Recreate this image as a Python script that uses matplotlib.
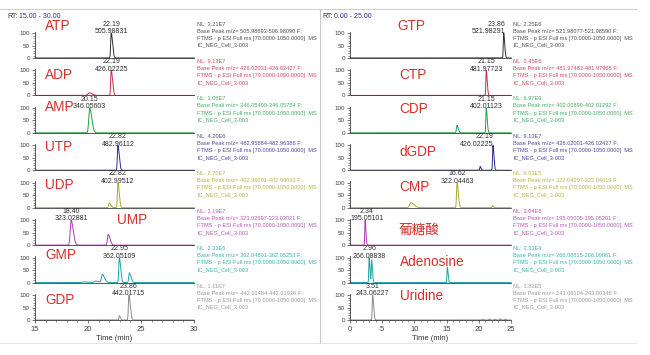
import numpy as np
import matplotlib
matplotlib.use("Agg")
import matplotlib.pyplot as plt
from matplotlib.ticker import MultipleLocator

# ---------------- data ----------------
left_names = ["ATP", "ADP", "AMP", "UTP", "UDP", "UMP", "GMP", "GDP"]
left_rt = [22.19, 22.19, 20.15, 22.82, 22.82, 18.40, 22.95, 23.86]
left_mz = ["505.98831", "426.02225", "346.05603", "482.96112",
           "402.99512", "323.02881", "362.05109", "442.01715"]
left_nl = ["3.21E7", "9.13E7", "1.06E7", "4.20E6", "2.70E7", "1.19E7", "2.33E6", "1.11E7"]
left_range = ["505.98693-506.98090", "426.02031-426.02427", "346.05409-346.05754",
              "482.95884-482.96386", "402.99291-402.99693", "323.02697-323.03021",
              "362.04891-362.05253", "442.01484-442.01936"]
# peaks: (retention time, relative abundance, width)
left_peaks = [
    [(22.19, 100, 0.05)],
    [(22.19, 100, 0.05), (20.10, 10, 0.12)],
    [(20.15, 100, 0.08)],
    [(22.82, 100, 0.05)],
    [(22.82, 100, 0.05), (22.00, 19, 0.06)],
    [(18.40, 100, 0.08), (21.90, 43, 0.07)],
    [(22.95, 100, 0.05), (19.60, 3, 0.15), (20.70, 6, 0.12), (21.35, 32, 0.08), (23.90, 39, 0.06)],
    [(23.86, 100, 0.05), (22.95, 17, 0.04)],
]

right_names = ["GTP", "CTP", "CDP", "dGDP", "CMP", "葡糖酸", "Adenosine", "Uridine"]
right_rt = [23.86, 21.15, 21.15, 22.19, 16.62, 2.34, 2.96, 3.51]
right_mz = ["521.98291", "481.97723", "402.01123", "426.02225",
            "322.04463", "195.05101", "266.08838", "243.06227"]
right_nl = ["2.25E6", "2.45E6", "6.97E6", "9.13E7", "9.03E5", "3.04E8", "2.33E4", "3.82E5"]
right_range = ["521.98077-521.98590", "481.97483-481.97965", "402.00890-402.01292",
               "426.02001-426.02427", "322.04297-322.04619", "195.05005-195.05201",
               "266.08815-266.09061", "243.06104-243.06348"]
right_peaks = [
    [(23.86, 100, 0.06)],
    [(21.15, 100, 0.06)],
    [(21.15, 100, 0.06), (16.60, 30, 0.08)],
    [(22.19, 100, 0.06), (20.20, 15, 0.06)],
    [(16.62, 100, 0.08), (9.45, 20, 0.20), (22.10, 8, 0.06)],
    [(2.34, 100, 0.05)],
    [(2.96, 100, 0.05), (3.35, 90, 0.05), (15.10, 62, 0.05)],
    [(3.51, 100, 0.06), (20.6, 3, 0.05), (21.6, 4, 0.05), (22.5, 3, 0.05), (23.3, 5, 0.05), (24.1, 4, 0.05)],
]

colors = ["#303030", "#cc2b45", "#22a046", "#2b2b8c", "#a8a828", "#b23ab2", "#1fa3a3", "#8a8a8a"]
name_color = "#d8302a"

# ---------------- layout helpers (pixel based) ----------------
W, H = 650, 355
fig = plt.figure(figsize=(W / 100, H / 100), dpi=100)
fig.patch.set_facecolor("white")

def fx(px):
    return px / W

def fy(py):
    return 1 - py / H

base0, step = 58.0, 37.43
unit = 25.0  # px for 100 %
YMAX = 105

SANS = ["Liberation Sans", "Noto Sans CJK SC", "DejaVu Sans"]

panels = [
    dict(x0=35, x1=194, lim=(15, 30), names=left_names, rt=left_rt, mz=left_mz, nl=left_nl,
         rng=left_range, peaks=left_peaks, txtx=197,
         name_x=[15.95, 15.95, 15.95, 15.95, 15.95, 22.7, 15.95, 15.95],
         name_y=[128, 80, 104, 92, 92, 100, 112, 80],
         ha=["center"] * 8, dx=[0] * 8,
         rtlabel=("RT:", "15.00 - 30.00", 7, 19), ticks=[15, 20, 25, 30]),
    dict(x0=350, x1=511, lim=(0, 25), names=right_names, rt=right_rt, mz=right_mz, nl=right_nl,
         rng=right_range, peaks=right_peaks, txtx=513,
         name_x=[7.3, 7.7, 7.7, 7.6, 7.6, 7.6, 7.7, 7.7],
         name_y=[128, 80, 96, 72, 84, 60, 84, 96],
         ha=["right", "center", "center", "right", "center", "center", "center", "center"],
         dx=[0.3, 0, 0, 0.1, 0, 0.3, 0, 0],
         rtlabel=("RT:", "0.00 - 25.00", 322, 334), ticks=[0, 5, 10, 15, 20, 25]),
]

for p in panels:
    lo, hi = p["lim"]
    t = np.linspace(lo, hi, 6000)
    for i in range(8):
        b = base0 + i * step
        ax = fig.add_axes([fx(p["x0"]), fy(b), (p["x1"] - p["x0"]) / W, unit * YMAX / 100 / H])
        y = np.zeros_like(t)
        for (rt, h, s) in p["peaks"][i]:
            sl = np.where(t < rt, s, s * 2.5)
            y += h * np.exp(-0.5 * ((t - rt) / sl) ** 2)
        ax.plot(t, y, color=colors[i], lw=0.7, clip_on=False)
        ax.set_xlim(lo, hi)
        ax.set_ylim(0, YMAX)
        ax.patch.set_alpha(0)
        for s in ("top", "right"):
            ax.spines[s].set_visible(False)
        for s in ("left", "bottom"):
            ax.spines[s].set_color("#404040")
            ax.spines[s].set_linewidth(0.6)
        ax.set_yticks([0, 50, 100])
        ax.yaxis.set_minor_locator(MultipleLocator(10))
        ax.tick_params(axis="y", which="major", labelsize=4.5, length=2.5, width=0.5,
                       pad=1, colors="#404040")
        ax.tick_params(axis="y", which="minor", length=1.2, width=0.4, colors="#404040")
        if i < 7:
            ax.tick_params(axis="x", which="both", bottom=False, labelbottom=False)
        else:
            ax.set_xticks(p["ticks"])
            ax.xaxis.set_minor_locator(MultipleLocator(1))
            ax.tick_params(axis="x", which="major", labelsize=5.5, length=2.5, width=0.5,
                           pad=1.5, colors="#404040")
            ax.tick_params(axis="x", which="minor", length=1.2, width=0.4, colors="#404040")
            ax.set_xlabel("Time (min)", fontsize=5.5, labelpad=1.5, color="#303030",
                          family=SANS)
        for lab in ax.get_xticklabels() + ax.get_yticklabels():
            lab.set_family(SANS)
        # peak annotation
        ax.text(p["rt"][i] + p["dx"][i], 91, f"{p['rt'][i]:.2f}\n{p['mz'][i]}",
                ha=p["ha"][i], va="bottom", fontsize=5, linespacing=1.1,
                color="#303030", clip_on=False, family=SANS)
        # compound name
        ax.text(p["name_x"][i], p["name_y"][i], p["names"][i], ha="left", va="center",
                fontsize=9.8, color=name_color, family=SANS, clip_on=False)
        # info block
        lines = [f"NL: {p['nl'][i]}",
                 f"Base Peak m/z= {p['rng'][i]} F:",
                 "FTMS - p ESI Full ms [70.0000-1050.0000]  MS",
                 "IC_NEG_Cell_3-003"]
        for k, ln in enumerate(lines):
            fig.text(fx(p["txtx"]), fy(b - 34 + k * 7.1), ln, ha="left", va="center",
                     fontsize=4.1, color=colors[i], family=SANS, alpha=0.85)
    a, bnum, xa, xb = p["rtlabel"]
    fig.text(fx(xa), fy(16), a, fontsize=5, color="#303030", va="center", family=SANS)
    fig.text(fx(xb), fy(16), bnum, fontsize=5, color="#3030a0", va="center", family=SANS)

# frame lines
fig.add_artist(plt.Line2D([0, fx(636)], [fy(9), fy(9)], color="#cfcfcf", lw=0.8))
fig.add_artist(plt.Line2D([0, fx(636)], [fy(343), fy(343)], color="#e6e6e6", lw=0.8))
fig.add_artist(plt.Line2D([fx(320), fx(320)], [fy(9), fy(343)], color="#c8c8c8", lw=0.8))

fig.savefig("out.png", dpi=100)
